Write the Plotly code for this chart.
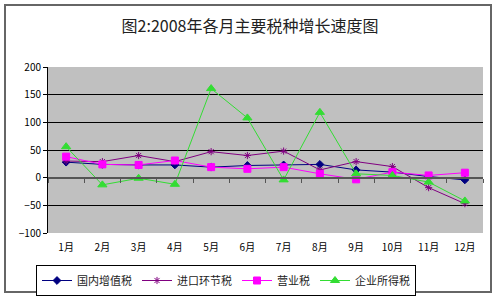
import plotly.graph_objects as go

months = ["1月", "2月", "3月", "4月", "5月", "6月", "7月", "8月", "9月", "10月", "11月", "12月"]
vat_domestic = [28, 24, 23, 23, 19, 22, 23, 24, 14, 10, 2, -4]
import_tax = [30, 29, 40, 29, 47, 40, 48, 14, 29, 20, -18, -47]
business_tax = [38, 24, 23, 31, 19, 16, 19, 7, -3, 10, 4, 9]
corp_income_tax = [56, -13, -1, -12, 161, 108, -4, 118, 7, 4, -8, -42]

series = [
    ("国内增值税", vat_domestic, "#000080", "diamond", 6, 1),
    ("进口环节税", import_tax, "#800080", "asterisk-open", 6, 1),
    ("营业税", business_tax, "#ff00ff", "square", 7, 1),
    ("企业所得税", corp_income_tax, "#33dd33", "triangle-up", 8, 1),
]

FONT = "Noto Sans CJK SC, SimSun, sans-serif"

fig = go.Figure()
for name, vals, color, sym, size, lw in series:
    fig.add_trace(go.Scatter(
        x=months, y=vals, name=name, mode="lines+markers",
        line=dict(color=color, width=lw),
        marker=dict(symbol=sym, size=size, color=color, line=dict(color=color, width=1)),
    ))

# invisible trace for the category axis drawn at y=0
fig.add_trace(go.Scatter(x=months, y=[0] * 12, xaxis="x2", mode="lines",
                         line=dict(width=0), showlegend=False, hoverinfo="skip"))

L, R, T, B = 48, 17, 67, 66
W, H = 500, 299
pw, ph = W - L - R, H - T - B

def px(x):
    return (x - L) / pw

def py(y):
    return (H - B - y) / ph

fig.update_layout(
    width=W, height=H,
    margin=dict(l=L, r=R, t=T, b=B, pad=0, autoexpand=False),
    paper_bgcolor="white",
    plot_bgcolor="#c0c0c0",
    font=dict(family=FONT, size=10, color="#000"),
    title=dict(text="图2:2008年各月主要税种增长速度图", x=0.5, xanchor="center",
               y=1 - 26 / H, yanchor="middle", font=dict(size=16, color="#222", family=FONT)),
    showlegend=True,
    legend=dict(orientation="h", x=px(36), xanchor="left", y=py(265), yanchor="top",
                bordercolor="#000", borderwidth=1, bgcolor="white",
                font=dict(size=11, family=FONT, color="#222"),
                itemwidth=30, tracegroupgap=0),
    xaxis=dict(type="category", categoryorder="array", categoryarray=months,
               showline=False, ticks="", showgrid=False, zeroline=False,
               tickfont=dict(size=10), ticklabelstandoff=7, range=[-0.5, 11.5]),
    xaxis2=dict(type="category", categoryorder="array", categoryarray=months,
                overlaying="x", anchor="free", position=1 / 3, matches="x",
                showline=True, linecolor="#555", linewidth=2,
                ticks="outside", ticklen=4, tickcolor="#555", tickwidth=1,
                tickson="boundaries", showticklabels=False, showgrid=False),
    yaxis=dict(range=[-100, 200], dtick=50, showline=True, linecolor="#000", linewidth=1,
               ticks="outside", ticklen=4, tickcolor="#000",
               showgrid=True, gridcolor="#000", gridwidth=1, zeroline=False,
               tickfont=dict(size=10)),
    shapes=[dict(type="rect", xref="paper", yref="paper",
                 x0=px(5), x1=px(491), y0=py(292), y1=py(5),
                 line=dict(color="#666", width=2), fillcolor="rgba(0,0,0,0)", layer="below")],
)

fig.write_html("out.html")
